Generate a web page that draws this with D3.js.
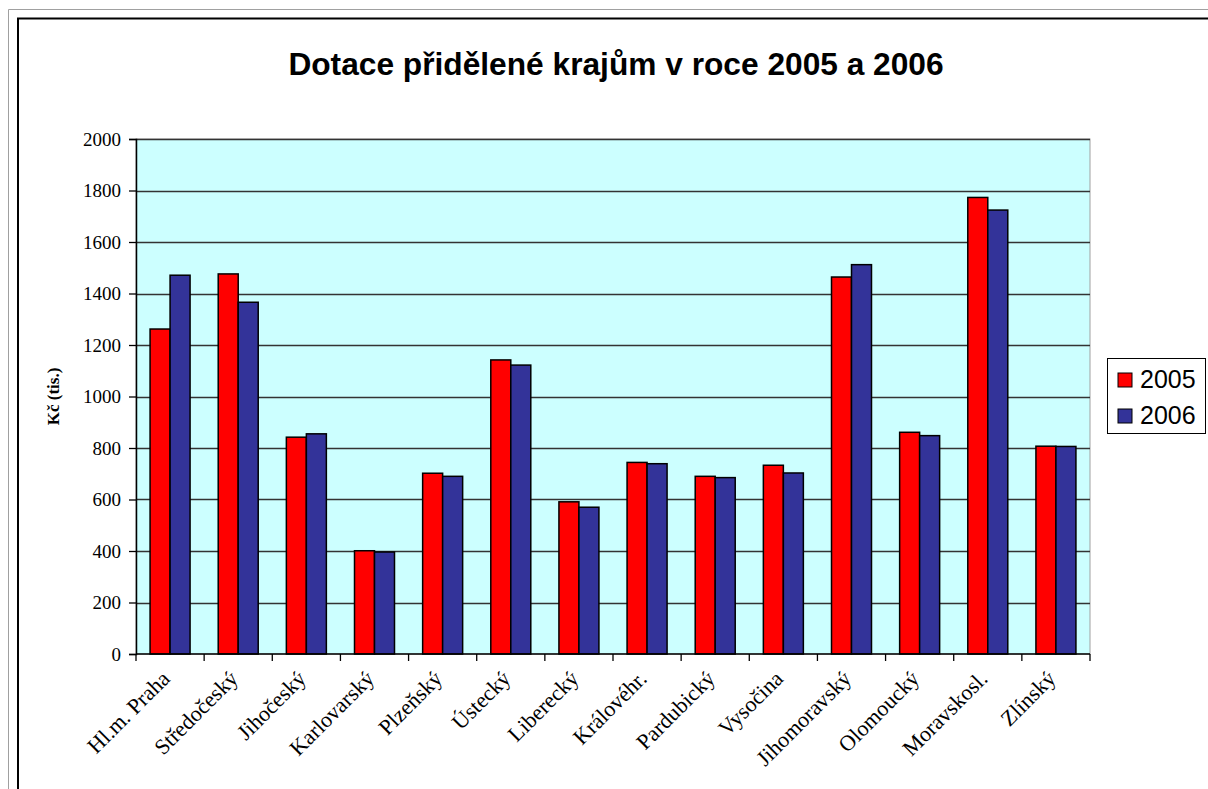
<!DOCTYPE html>
<html>
<head>
<meta charset="utf-8">
<script src="https://cdn.jsdelivr.net/npm/d3@7"></script>
<style>
  body { margin: 0; background: #fff; }
</style>
</head>
<body>
<script>
var width = 1208;
var height = 789;

var categories = ["Hl.m. Praha", "Středočeský", "Jihočeský", "Karlovarský", "Plzeňský", "Ústecký",
  "Liberecký", "Královéhr.", "Pardubický", "Vysočina", "Jihomoravský", "Olomoucký", "Moravskosl.", "Zlínský"];
var series = ["2005", "2006"];
var values2005 = [1262, 1476, 842, 401, 702, 1142, 591, 744, 690, 733, 1464, 861, 1773, 807];
var values2006 = [1471, 1366, 855, 396, 690, 1122, 570, 739, 685, 703, 1512, 848, 1724, 806];
var yTicks = [0, 200, 400, 600, 800, 1000, 1200, 1400, 1600, 1800, 2000];
var colors = ["#ff0000", "#333399"];

var svg = d3.select("body")
  .append("svg")
  .attr("width", width)
  .attr("height", height);

// outer frames
svg.append("path").attr("d", "M8.5,789 V9.5 H1208").attr("fill", "none").attr("stroke", "#a0a0a0").attr("stroke-width", 1);
svg.append("path").attr("d", "M18,789 V18.5 H1208").attr("fill", "none").attr("stroke", "#000").attr("stroke-width", 2);

var pLeft = 136, pRight = 1090, pTop = 139, pBottom = 654;

var x = d3.scaleBand().domain(categories).range([pLeft, pRight]);
var x1 = d3.scaleBand().domain(series).range([x.bandwidth() / 2 - 20, x.bandwidth() / 2 + 20]);
var y = d3.scaleLinear().domain([0, 2000]).range([pBottom, pTop]);

// plot area
svg.append("rect")
  .attr("x", pLeft).attr("y", pTop)
  .attr("width", pRight - pLeft).attr("height", pBottom - pTop)
  .attr("fill", "#ccffff")
  .attr("stroke", "#a0a0a0");

// gridlines
svg.append("g")
  .selectAll("line")
  .data(yTicks.slice(1))
  .enter()
  .append("line")
  .attr("x1", pLeft).attr("x2", pRight)
  .attr("y1", function(d){ return Math.round(y(d)) + 0.5; })
  .attr("y2", function(d){ return Math.round(y(d)) + 0.5; })
  .attr("stroke", "#333")
  .attr("stroke-width", 1.3);

// bars
var data = [];
categories.forEach(function(c, i){
  data.push({cat: c, s: "2005", v: values2005[i], col: colors[0]});
  data.push({cat: c, s: "2006", v: values2006[i], col: colors[1]});
});

svg.append("g")
  .selectAll("rect")
  .data(data)
  .enter()
  .append("rect")
  .attr("x", function(d){ return x(d.cat) + x1(d.s); })
  .attr("width", x1.bandwidth())
  .attr("y", function(d){ return y(d.v); })
  .attr("height", function(d){ return y(0) - y(d.v); })
  .attr("fill", function(d){ return d.col; })
  .attr("stroke", "#000")
  .attr("stroke-width", 1.5);

// y axis
var yAxis = svg.append("g")
  .attr("transform", "translate(" + pLeft + ",0)")
  .call(d3.axisLeft(y).tickValues(yTicks).tickSize(7).tickPadding(8).tickFormat(d3.format("d")));
yAxis.select(".domain").attr("stroke", "#000").attr("stroke-width", 1.5);
yAxis.selectAll(".tick line").attr("stroke", "#000").attr("stroke-width", 1.3);
yAxis.selectAll("text")
  .attr("font-family", "Liberation Serif, Times New Roman, serif")
  .attr("font-size", "19px")
  .attr("fill", "#000");

// x axis
var xAxis = svg.append("g")
  .attr("transform", "translate(0," + pBottom + ")");
xAxis.append("line")
  .attr("x1", pLeft).attr("x2", pRight)
  .attr("y1", 0).attr("y2", 0)
  .attr("stroke", "#000").attr("stroke-width", 1.5);
var boundaries = categories.map(function(c){ return x(c); }).concat([pRight]);
xAxis.selectAll(".bt")
  .data(boundaries)
  .enter()
  .append("line")
  .attr("class", "bt")
  .attr("x1", function(d){ return d; }).attr("x2", function(d){ return d; })
  .attr("y1", 0).attr("y2", 7)
  .attr("stroke", "#000").attr("stroke-width", 1.3);
xAxis.selectAll(".lbl")
  .data(categories)
  .enter()
  .append("text")
  .attr("class", "lbl")
  .attr("transform", function(d){ return "translate(" + (x(d) + x.bandwidth() / 2 + 1) + ",26) rotate(-45)"; })
  .attr("text-anchor", "end")
  .attr("font-family", "Liberation Serif, Times New Roman, serif")
  .attr("font-size", "22px")
  .attr("fill", "#000")
  .text(function(d){ return d; });

// y label
svg.append("text")
  .attr("transform", "translate(59," + ((pTop + pBottom) / 2) + ") rotate(-90)")
  .attr("text-anchor", "middle")
  .attr("font-family", "Liberation Serif, Times New Roman, serif")
  .attr("font-weight", "bold")
  .attr("font-size", "17px")
  .text("Kč (tis.)");

// title
svg.append("text")
  .attr("x", 616).attr("y", 75)
  .attr("text-anchor", "middle")
  .attr("font-family", "Liberation Sans, Arial, sans-serif")
  .attr("font-weight", "bold")
  .attr("font-size", "31.7px")
  .text("Dotace přidělené krajům v roce 2005 a 2006");

// legend
var legend = svg.append("g");
legend.append("rect")
  .attr("x", 1107.5).attr("y", 358.5)
  .attr("width", 98).attr("height", 75)
  .attr("fill", "#fff").attr("stroke", "#000");
var li = legend.selectAll(".li")
  .data(series)
  .enter()
  .append("g")
  .attr("transform", function(d, i){ return "translate(1118," + (373 + i * 36) + ")"; });
li.append("rect")
  .attr("width", 14).attr("height", 14)
  .attr("fill", function(d, i){ return colors[i]; })
  .attr("stroke", "#000");
li.append("text")
  .attr("x", 22).attr("y", 15)
  .attr("font-family", "Liberation Sans, Arial, sans-serif")
  .attr("font-size", "25px")
  .text(function(d){ return d; });
</script>
</body>
</html>
